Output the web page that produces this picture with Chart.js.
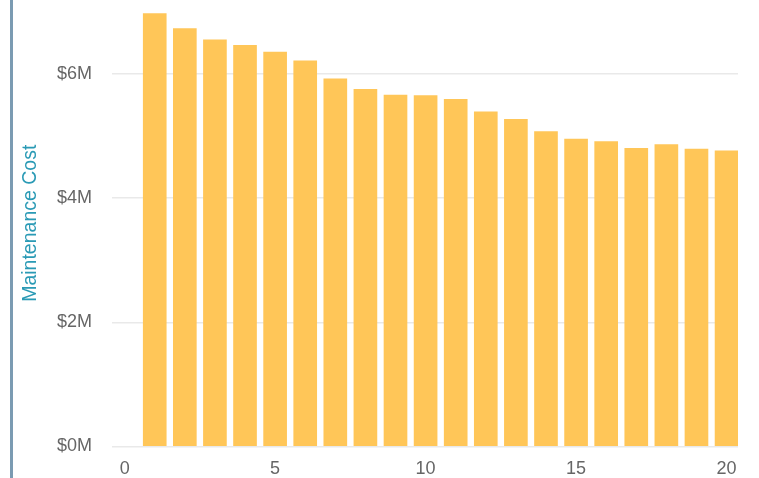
<!DOCTYPE html>
<html>
<head>
<meta charset="utf-8">
<script src="https://cdn.jsdelivr.net/npm/chart.js@4/dist/chart.umd.min.js"></script>
<style>
  html, body { margin: 0; padding: 0; background: #fff; }
  #wrap { position: relative; width: 759px; height: 478px; overflow: hidden; }
  #edge { position: absolute; left: 10px; top: 0; width: 3px; height: 478px; background: #7b9bb2; }
  canvas { position: absolute; left: 0; top: 0; }
</style>
</head>
<body>
<div id="wrap">
  <canvas id="c" width="759" height="478"></canvas>
  <div id="edge"></div>
</div>
<script>
const years = [1, 2, 3, 4, 5, 6, 7, 8, 9, 10, 11, 12, 13, 14, 15, 16, 17, 18, 19, 20];
const maintenanceCost = [6970000, 6730000, 6550000, 6460000, 6350000, 6210000, 5920000, 5750000, 5660000, 5650000,
                         5590000, 5390000, 5270000, 5070000, 4950000, 4910000, 4800000, 4860000, 4790000, 4760000];
const xTickValues = [0, 5, 10, 15, 20];
const yTickValues = [0, 2000000, 4000000, 6000000];

const FONT = '"Liberation Sans", Arial, Helvetica, sans-serif';

new Chart(document.getElementById('c'), {
  type: 'bar',
  data: {
    datasets: [{
      label: 'Maintenance Cost',
      data: years.map((x, i) => ({ x: x, y: maintenanceCost[i] })),
      backgroundColor: '#ffc658',
      borderWidth: 0,
      barThickness: 23
    }]
  },
  options: {
    responsive: false,
    animation: false,
    layout: { padding: { left: 0, right: 21, top: 0, bottom: 0 } },
    plugins: { legend: { display: false }, tooltip: { enabled: false } },
    scales: {
      x: {
        type: 'linear',
        offset: false,
        min: -0.42,
        max: 20.38,
        grid: { display: false, drawTicks: false },
        border: { display: false },
        afterBuildTicks: (s) => { s.ticks = xTickValues.map(v => ({ value: v })); },
        afterFit: (s) => { s.height = 31.5; s.paddingLeft = 0; s.paddingRight = 0; },
        ticks: {
          padding: 12,
          color: '#666',
          font: { family: FONT, size: 18 },
          maxRotation: 0,
          autoSkip: false
        }
      },
      y: {
        min: 0,
        max: 7190000,
        grid: { color: '#e9e9e9', lineWidth: 1.5, drawTicks: false },
        border: { display: false },
        afterBuildTicks: (s) => { s.ticks = yTickValues.map(v => ({ value: v })); },
        afterFit: (s) => { s.width = 112; s.paddingTop = 0; s.paddingBottom = 0; },
        ticks: {
          padding: 20,
          color: '#666',
          font: { family: FONT, size: 18 },
          callback: (v) => '$' + (v / 1000000) + 'M'
        },
        title: {
          display: true,
          text: 'Maintenance Cost',
          color: '#2a9ab5',
          font: { family: FONT, size: 19.5 },
          padding: { top: 19, bottom: 0 }
        }
      }
    }
  }
});
</script>
</body>
</html>
